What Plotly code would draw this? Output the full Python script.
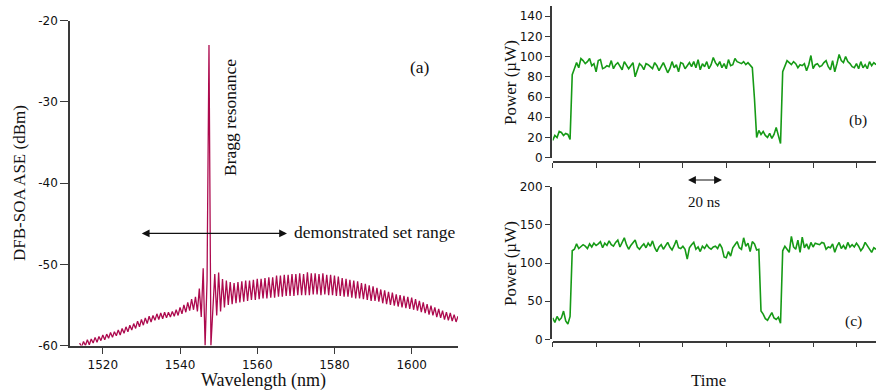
import plotly.graph_objects as go

# ---------------- data ----------------
# (a) DFB-SOA ASE spectrum, sampled every 0.5 nm starting at 1514 nm
wl_start = 1514.0
wl_step = 0.5
ase_dbm = [
    -59.7, -60.2, -59.5, -60.0, -59.3, -59.9, -59.2, -59.7, -59.0, -59.6,
    -58.9, -59.4, -58.7, -59.3, -58.6, -59.1, -58.4, -59.0, -58.3, -58.8,
    -58.1, -58.7, -57.9, -58.5, -57.7, -58.3, -57.5, -58.1, -57.3, -57.9,
    -57.0, -57.7, -56.8, -57.5, -56.6, -57.3, -56.4, -57.1, -56.3, -56.9,
    -56.1, -56.8, -56.0, -56.7, -55.9, -56.6, -55.9, -56.5, -55.8, -56.4,
    -55.6, -56.3, -55.3, -56.1, -55.0, -55.9, -54.7, -55.7, -54.3, -55.6,
    -54.0, -55.8, -53.0, -56.5, -50.5, -60.0, -52.0, -23.0, -60.0, -55.5,
    -51.2, -56.3, -51.0, -55.8, -51.8, -55.3, -52.0, -55.0, -52.2, -54.9,
    -52.3, -54.8, -52.2, -54.7, -52.1, -54.6, -52.0, -54.5, -52.0, -54.4,
    -51.9, -54.4, -51.8, -54.3, -51.8, -54.2, -51.7, -54.2, -51.6, -54.1,
    -51.6, -54.1, -51.4, -54.0, -51.4, -54.0, -51.3, -53.9, -51.3, -53.9,
    -51.2, -53.9, -51.2, -53.8, -51.1, -53.8, -51.2, -53.8, -51.0, -53.8,
    -51.1, -53.7, -51.1, -53.7, -51.2, -53.8, -51.1, -53.7, -51.3, -53.8,
    -51.3, -53.8, -51.4, -53.9, -51.5, -53.9, -51.7, -54.0, -51.8, -54.0,
    -51.9, -54.1, -52.0, -54.2, -52.1, -54.2, -52.3, -54.3, -52.4, -54.4,
    -52.6, -54.5, -52.7, -54.5, -52.9, -54.6, -53.1, -54.8, -53.2, -54.9,
    -53.4, -55.0, -53.5, -55.1, -53.7, -55.2, -53.8, -55.3, -53.9, -55.4,
    -54.0, -55.5, -54.1, -55.6, -54.3, -55.7, -54.5, -55.9, -54.7, -56.0,
    -54.9, -56.2, -55.1, -56.3, -55.3, -56.5, -55.5, -56.6, -55.7, -56.8,
    -55.9, -56.9, -56.0, -57.0, -56.2, -57.1, -56.4,
]
ase_ticks = [-60, -50, -40, -30, -20]
ase_ticklabels = ["-60", "-50", "-40", "-30", "-20"]
wl_ticks = [1520, 1540, 1560, 1580, 1600]

# (b), (c) optical power vs time, sampled every 1 ns starting at 0 ns
t_start = 0.0
t_step = 1.0
power_b = [
    17, 22, 20, 26, 25, 22, 24, 23, 18, 82,
    88, 94, 89, 98, 96, 93, 95, 98, 91, 93,
    85, 96, 97, 88, 89, 91, 90, 96, 88, 92,
    94, 90, 87, 95, 92, 88, 91, 94, 80, 86,
    93, 91, 87, 93, 92, 90, 88, 94, 91, 86,
    90, 94, 89, 84, 88, 95, 89, 92, 85, 94,
    93, 88, 91, 94, 90, 95, 89, 97, 87, 93,
    90, 95, 88, 92, 99, 94, 91, 95, 89, 93,
    88, 97, 91, 92, 98, 95, 94, 93, 95, 92,
    94, 91, 89, 58, 20, 27, 23, 26, 22, 20,
    24, 19, 23, 30, 22, 14, 85, 91, 96, 94,
    92, 95, 93, 89, 92, 91, 93, 86, 92, 101,
    88, 92, 93, 90, 91, 94, 96, 90, 87, 96,
    85, 93, 102, 96, 94, 100, 95, 93, 90, 89,
    93, 88, 95, 89, 92, 88, 95, 91, 94, 92,
]
power_c = [
    28, 22, 30, 25, 28, 37, 24, 20, 30, 116,
    118, 125, 119, 121, 124, 122, 119, 125, 121, 126,
    123, 125, 128, 120, 126, 123, 129, 124, 122, 127,
    130, 121, 127, 133, 124, 118, 123, 127, 130, 121,
    118, 122, 125, 120, 126, 122, 129, 120, 115, 121,
    124, 118, 122, 127, 121, 117, 123, 130, 120, 119,
    122, 118, 105, 120, 124, 127, 118, 121, 115, 122,
    119, 124, 120, 118, 121, 122, 119, 125, 120, 108,
    107, 115, 109, 120, 124, 128, 120, 118, 133, 122,
    126, 115, 128, 125, 117, 118, 37, 33, 27, 25,
    30, 35, 28, 26, 29, 21, 116, 122, 118, 114,
    135, 121, 118, 130, 114, 134, 120, 125, 118, 127,
    121, 126, 125, 124, 127, 126, 118, 121, 120, 125,
    114, 122, 127, 119, 123, 118, 127, 121, 124, 121,
    126, 122, 116, 120, 127, 123, 119, 114, 120, 118,
]

# ---------------- figure ----------------
W, H = 876, 392
def px(x):
    return x / W
def py(y):
    return (H - y) / H

CRIMSON = "#ad0a4e"
GREEN = "#169a16"
AX = "#3a3a3a"
TICKFONT = dict(family="DejaVu Sans", size=12, color="#111")
SERIF = "Liberation Serif"

fig = go.Figure()
fig.add_trace(go.Scatter(x0=wl_start, dx=wl_step, y=ase_dbm, mode="lines",
                         line=dict(color=CRIMSON, width=1.3),
                         xaxis="x", yaxis="y", showlegend=False))
fig.add_trace(go.Scatter(x0=t_start, dx=t_step, y=power_b, mode="lines",
                         line=dict(color=GREEN, width=1.6),
                         xaxis="x2", yaxis="y2", showlegend=False))
fig.add_trace(go.Scatter(x0=t_start, dx=t_step, y=power_c, mode="lines",
                         line=dict(color=GREEN, width=1.6),
                         xaxis="x3", yaxis="y3", showlegend=False))

common = dict(showgrid=False, zeroline=False, showline=True, linecolor=AX,
              linewidth=1.5, ticks="outside", tickcolor=AX, tickwidth=1.2,
              tickfont=TICKFONT)

fig.update_layout(
    width=W, height=H, autosize=False,
    margin=dict(l=0, r=0, t=0, b=0, autoexpand=False),
    paper_bgcolor="white", plot_bgcolor="white",
    xaxis=dict(domain=[px(70), px(458)], range=[1511.5, 1612],
               tickvals=wl_ticks, ticklen=7, anchor="y", **common),
    yaxis=dict(domain=[py(345.5), py(20.7)], range=[-60, -20],
               tickvals=ase_ticks, ticktext=ase_ticklabels,
               ticklen=8, anchor="x", **common),
    xaxis2=dict(domain=[px(552.7), 1.0], range=[0, 149], tick0=0, dtick=20,
                ticklen=5, showticklabels=False, anchor="free",
                position=py(162.3), **common),
    yaxis2=dict(domain=[py(157.7), py(6)], range=[0, 150], dtick=20,
                ticklen=5, anchor="free", position=px(550.7), **common),
    xaxis3=dict(domain=[px(552.7), 1.0], range=[0, 149], tick0=0, dtick=20,
                ticklen=5, showticklabels=False, anchor="free",
                position=py(341.7), **common),
    yaxis3=dict(domain=[py(339.3), py(186.7)], range=[0, 200], dtick=50,
                ticklen=5, anchor="free", position=px(550.7), **common),
)

def label(text, x, y, size, angle=0, xanchor="center"):
    fig.add_annotation(text=text, x=px(x), y=py(y), xref="paper", yref="paper",
                       showarrow=False, textangle=angle, xanchor=xanchor,
                       yanchor="middle", font=dict(family=SERIF, size=size, color="#111"))

label("DFB-SOA ASE (dBm)", 19, 183, 17, angle=-90)
label("Wavelength (nm)", 263, 380, 18)
label("(a)", 420, 67, 17.5)
label("Bragg resonance", 230, 118, 17.5, angle=-90)
label("demonstrated set range", 292, 232, 17.5, xanchor="left")
label("Power (\u00b5W)", 510, 83, 17, angle=-90)
label("Power (\u00b5W)", 510, 264, 17, angle=-90)
label("(b)", 858, 120, 15.5)
label("(c)", 853, 321, 15.5)
label("20 ns", 704, 202, 15)
label("Time", 708, 380, 17)

# double-headed arrows
fig.add_annotation(x=1567.7, y=-46.2, ax=1529.7, ay=-46.2, xref="x", yref="y",
                   axref="x", ayref="y", text="", showarrow=True,
                   arrowhead=2, startarrowhead=2, arrowside="end+start",
                   arrowsize=1.3, startarrowsize=1.3, arrowwidth=1.2, arrowcolor="#111")
fig.add_annotation(x=78.0, y=py(180), ax=61.7, ay=0, xref="x2",
                   yref="paper", axref="x2", ayref="pixel", text="",
                   showarrow=True, arrowhead=2, startarrowhead=2,
                   arrowside="end+start", arrowsize=1.3, startarrowsize=1.3,
                   arrowwidth=1.2, arrowcolor="#111")

fig.write_html("out.html", config={"displayModeBar": False},
               post_script="document.body.style.margin='0px';document.body.style.overflow='hidden';")
